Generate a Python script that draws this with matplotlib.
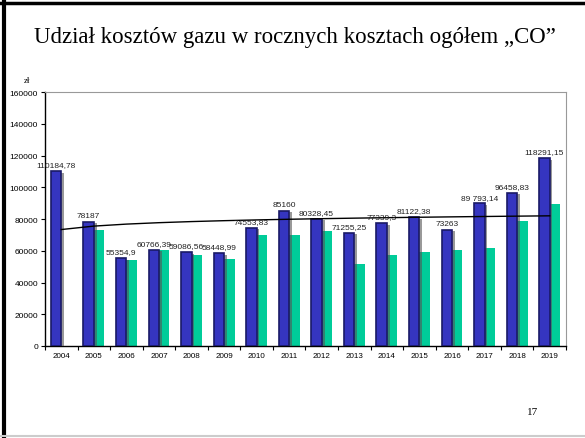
import numpy as np
import matplotlib
matplotlib.use("Agg")
import matplotlib.pyplot as plt
import matplotlib.patheffects as pe

plt.rcParams['font.family'] = ['Liberation Sans', 'DejaVu Sans']

# dane
lata = ["2004", "2005", "2006", "2007", "2008", "2009", "2010", "2011",
        "2012", "2013", "2014", "2015", "2016", "2017", "2018", "2019"]
koszty_ogolem = [110184.78, 78187, 55354.9, 60766.39, 59086.56, 58448.99, 74553.83, 85160,
                 80328.45, 71255.25, 77339.3, 81122.38, 73263, 89793.14, 96458.83, 118291.15]
koszty_gazu = [np.nan, 73300, 54400, 60300, 57100, 55000, 69700, 69700,
               72200, 51900, 57300, 59400, 60500, 61900, 79000, 89400]
etykiety = ["110184,78", "78187", "55354,9", "60766,39", "59086,56", "58448,99", "74553,83", "85160",
            "80328,45", "71255,25", "77339,3", "81122,38", "73263", "89 793,14", "96458,83", "118291,15"]

fig = plt.figure(figsize=(5.85, 4.39), dpi=100)
ax = fig.add_axes([0.0769, 0.2096, 0.8906, 0.5784])

x = np.arange(len(lata))
w = 0.32

cien = [pe.SimplePatchShadow(offset=(2, -1), shadow_rgbFace='#555555', alpha=0.6), pe.Normal()]
slupki = ax.bar(x - w / 2, koszty_ogolem, w, color='#3535c0', edgecolor='#1a1a66', linewidth=1.2, zorder=3)
for s in slupki:
    s.set_path_effects(cien)
ax.bar(x + w / 2, koszty_gazu, w, color='#00cc99', linewidth=0, zorder=2)

# linia trendu logarytmicznego
b, a = np.polyfit(np.log(x + 1), koszty_ogolem, 1)
ax.plot(x, a + b * np.log(x + 1), color='black', linewidth=1, zorder=4)

for xi, v, t in zip(x, koszty_ogolem, etykiety):
    ax.text(xi - w / 2, v + 1800, t, ha='center', va='bottom', fontsize=6, color='#222222', zorder=5)

ax.set_xlim(-0.5, len(lata) - 0.5)
ax.set_ylim(0, 160000)
ax.set_yticks(np.arange(0, 160001, 20000))
ax.set_yticklabels([str(v) for v in range(0, 160001, 20000)], fontsize=6)
ax.set_xticks(x)
ax.set_xticklabels(lata, fontsize=5.8)
ax.set_xticks(np.arange(-0.5, len(lata), 1), minor=True)
ax.tick_params(axis='x', which='major', length=0, pad=4)
ax.tick_params(axis='x', which='minor', length=3, width=0.8, direction='out')
ax.tick_params(axis='y', length=3, width=0.8, pad=2)
ax.spines['top'].set_color('#999999')
ax.spines['right'].set_color('#999999')
for sp in ['left', 'bottom']:
    ax.spines[sp].set_color('black')
    ax.spines[sp].set_linewidth(1)

fig.text(0.504, 0.915, "Udział kosztów gazu w rocznych kosztach ogółem „CO”", ha='center', va='center',
         fontsize=16.5, family='Liberation Serif')
fig.text(0.047, 0.815, "zł", ha='center', va='center', fontsize=6.5, family='Liberation Serif')
fig.text(0.911, 0.061, "17", ha='center', va='center', fontsize=8, family='Liberation Serif')

# ramka slajdu
fig.add_artist(plt.Line2D([0.0068, 0.0068], [0, 1], color='black', linewidth=3, transform=fig.transFigure))
fig.add_artist(plt.Line2D([0, 1], [0.992, 0.992], color='black', linewidth=2.5, transform=fig.transFigure))
fig.add_artist(plt.Line2D([0, 1], [0.004, 0.004], color='#cccccc', linewidth=1.5, transform=fig.transFigure))

plt.savefig("out.png", dpi=100)
